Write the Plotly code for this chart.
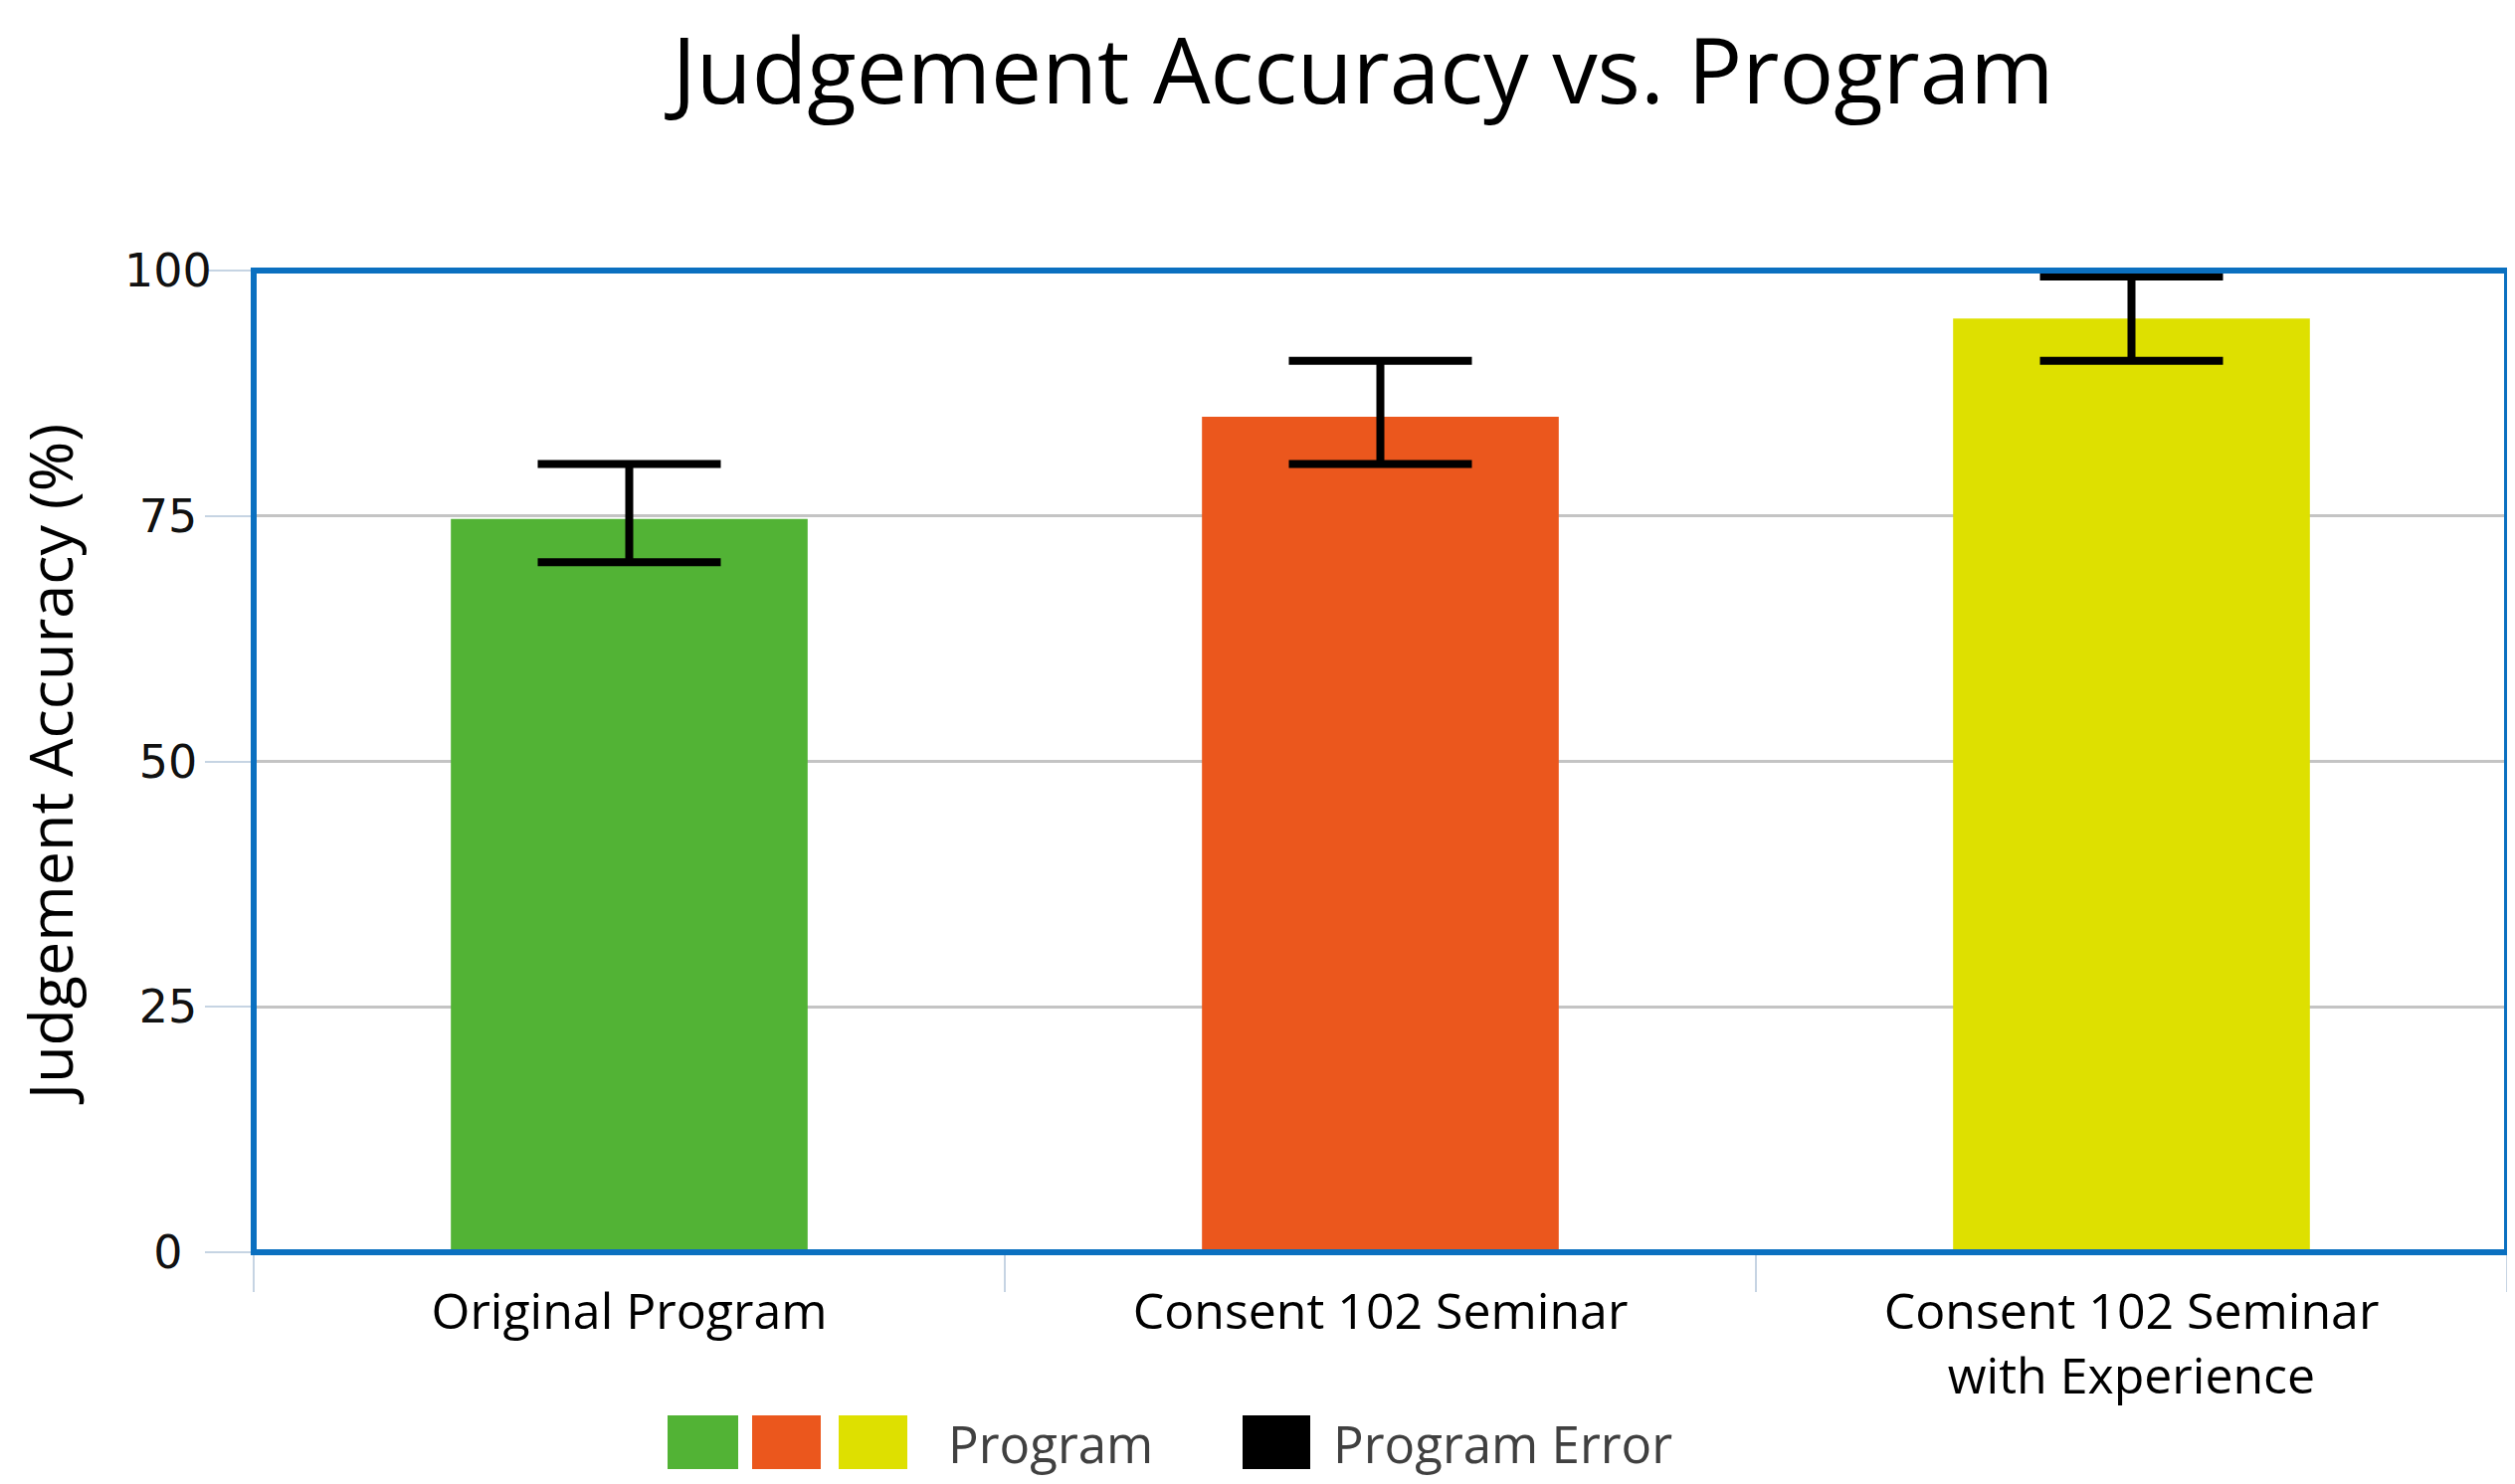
import plotly.graph_objects as go

categories = ["Original Program", "Consent 102 Seminar", "Consent 102 Seminar<br>with Experience"]
accuracy = [74.7, 85.1, 95.1]
err_plus = [5.6, 5.7, 4.3]
err_minus = [4.4, 4.8, 4.3]
bar_colors = ["#52b335", "#eb571d", "#dee000"]
y_ticks = [0, 25, 50, 75, 100]
y_tick_text = ["0\u2007", "25\u2008", "50\u2008", "75\u2008", "100"]

W, H = 2528, 1492
OFF = 8  # page body margin offset
ML, MR, MT, MB = 247, 16, 264, 241
PW, PH = W - ML - MR, H - MT - MB

def px(x):
    return (x - OFF - ML) / PW

def py(y):
    return (H - MB - (y - OFF)) / PH

fig = go.Figure()
fig.add_trace(go.Bar(
    x=categories, y=accuracy, width=0.475,
    marker=dict(color=bar_colors, line=dict(width=0)),
    error_y=dict(type="data", array=err_plus, arrayminus=err_minus, symmetric=False,
                 color="#000000", thickness=8, width=92),
    showlegend=False,
))

shapes = [
    dict(type="rect", xref="paper", yref="paper", x0=0, x1=1, y0=0, y1=1,
         line=dict(color="#0b70c0", width=6), layer="above"),
]
for x0, x1, c in [(671, 742, bar_colors[0]), (756, 825, bar_colors[1]), (843, 912, bar_colors[2]), (1249, 1317, "#000000")]:
    shapes.append(dict(type="rect", xref="paper", yref="paper", x0=px(x0), x1=px(x1),
                       y0=py(1477), y1=py(1423), fillcolor=c, line=dict(width=0)))

annotations = [
    dict(text="Program", xref="paper", yref="paper", x=px(951), y=py(1451), xanchor="left", yanchor="middle",
         showarrow=False, font=dict(family="Open Sans", size=51, color="#404040")),
    dict(text="Program Error", xref="paper", yref="paper", x=px(1338), y=py(1451), xanchor="left", yanchor="middle",
         showarrow=False, font=dict(family="Open Sans", size=51, color="#404040")),
]

fig.update_layout(
    width=W, height=H,
    margin=dict(l=ML, r=MR, t=MT, b=MB),
    paper_bgcolor="white", plot_bgcolor="white",
    title=dict(text="Judgement Accuracy vs. Program", x=(1370 - OFF) / W, xanchor="center",
               y=1 - (72 - OFF) / H, yanchor="middle",
               font=dict(family="Open Sans", size=91, color="#000000")),
    shapes=shapes, annotations=annotations,
    xaxis=dict(
        type="category", range=[-0.5, 2.5],
        showgrid=False, showline=True, linecolor="#c6d4e3", linewidth=3,
        ticks="outside", tickson="boundaries", ticklen=37, tickwidth=2, tickcolor="#c6d4e3",
        ticklabelstandoff=14,
        tickfont=dict(family="Open Sans", size=50, color="#000000"),
    ),
    yaxis=dict(
        range=[0, 100], tickvals=y_ticks, ticktext=y_tick_text,
        showgrid=True, gridcolor="#c4c4c4", gridwidth=3, zeroline=False,
        ticks="outside", ticklen=48, tickwidth=2, tickcolor="#c6d4e3",
        ticklabelstandoff=-16,
        tickfont=dict(family="DejaVu Sans", size=46, color="#111111"),
        title=dict(text="Judgement Accuracy (%)", standoff=44,
                   font=dict(family="Open Sans", size=61, color="#000000")),
    ),
)

fig.write_html("out.html")
